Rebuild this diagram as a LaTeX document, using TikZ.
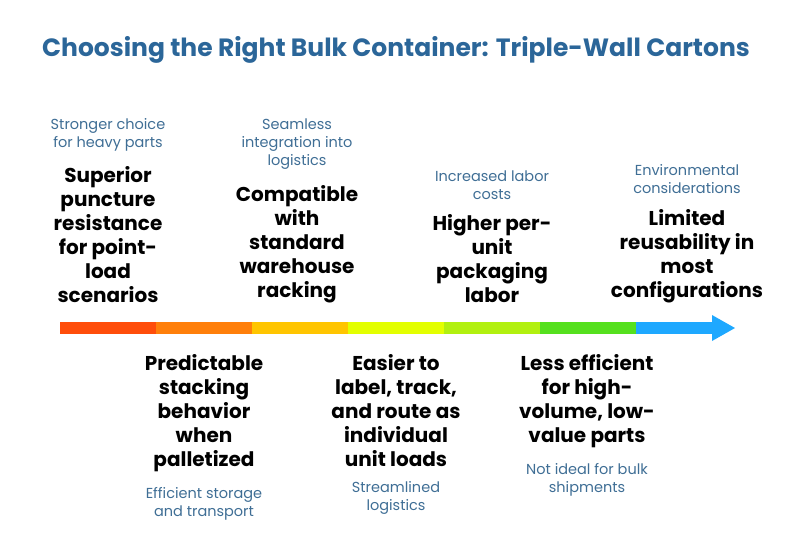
\documentclass[tikz,border=0pt]{standalone}
\usepackage{fontspec}
\setmainfont{Poppins}
\usetikzlibrary{positioning}
\definecolor{titleblue}{HTML}{2B6699}
\definecolor{noteblue}{HTML}{3F6E95}
\definecolor{segA}{HTML}{FF4D0A}
\definecolor{segB}{HTML}{FF7F0A}
\definecolor{segC}{HTML}{FFC500}
\definecolor{segD}{HTML}{E3FF00}
\definecolor{segE}{HTML}{B2F010}
\definecolor{segF}{HTML}{55E01E}
\definecolor{segG}{HTML}{1EA8FF}
\tikzset{
headline/.style={font=\fontsize{20}{24}\selectfont\bfseries,align=center,inner sep=1pt},
note/.style={font=\fontsize{14.5}{18}\selectfont,text=noteblue,align=center,inner sep=1pt},
title/.style={font=\fontsize{25}{28}\selectfont\bfseries,text=titleblue}
}
\begin{document}
\begin{tikzpicture}[x=1pt,y=-1pt,node distance=10pt]
\useasboundingbox (0,0) rectangle (792,558);
\node[title] (t) at (396,50) {Choosing the Right Bulk Container: Triple-Wall Cartons};

% bar
\foreach \c [count=\i from 0] in {segA,segB,segC,segD,segE,segF}
  \fill[\c] (60+96*\i,322) rectangle (156+96*\i,334);
\fill[segG] (636,322) rectangle (714,334);
\fill[segG] (712,315) -- (735,328) -- (712,341) -- cycle;

% above the bar
\node[headline,anchor=south] (h1) at (108,304) {Superior\\puncture\\resistance\\for point-\\load\\scenarios};
\node[note,above=13pt of h1] (n1) {Stronger choice\\for heavy parts};
\node[headline,anchor=south] (h3) at (297,304) {Compatible\\with\\standard\\warehouse\\racking};
\node[note,above=13pt of h3] (n3) {Seamless\\integration into\\logistics};
\node[headline,anchor=south] (h5) at (492,304) {Higher per-\\unit\\packaging\\labor};
\node[note,above=13pt of h5] (n5) {Increased labor\\costs};
\node[headline,anchor=south] (h7) at (687,304) {Limited\\reusability in\\most\\configurations};
\node[note,above=13pt of h7] (n7) {Environmental\\considerations};

% below the bar
\node[headline,anchor=north] (h2) at (204,353) {Predictable\\stacking\\behavior\\when\\palletized};
\node[note,below=13pt of h2] (n2) {Efficient storage\\and transport};
\node[headline,anchor=north] (h4) at (396,353) {Easier to\\label, track,\\and route as\\individual\\unit loads};
\node[note,below=13pt of h4] (n4) {Streamlined\\logistics};
\node[headline,anchor=north] (h6) at (587,353) {Less efficient\\for high-\\volume, low-\\value parts};
\node[note,below=13pt of h6] (n6) {Not ideal for bulk\\shipments};
\end{tikzpicture}
\end{document}
